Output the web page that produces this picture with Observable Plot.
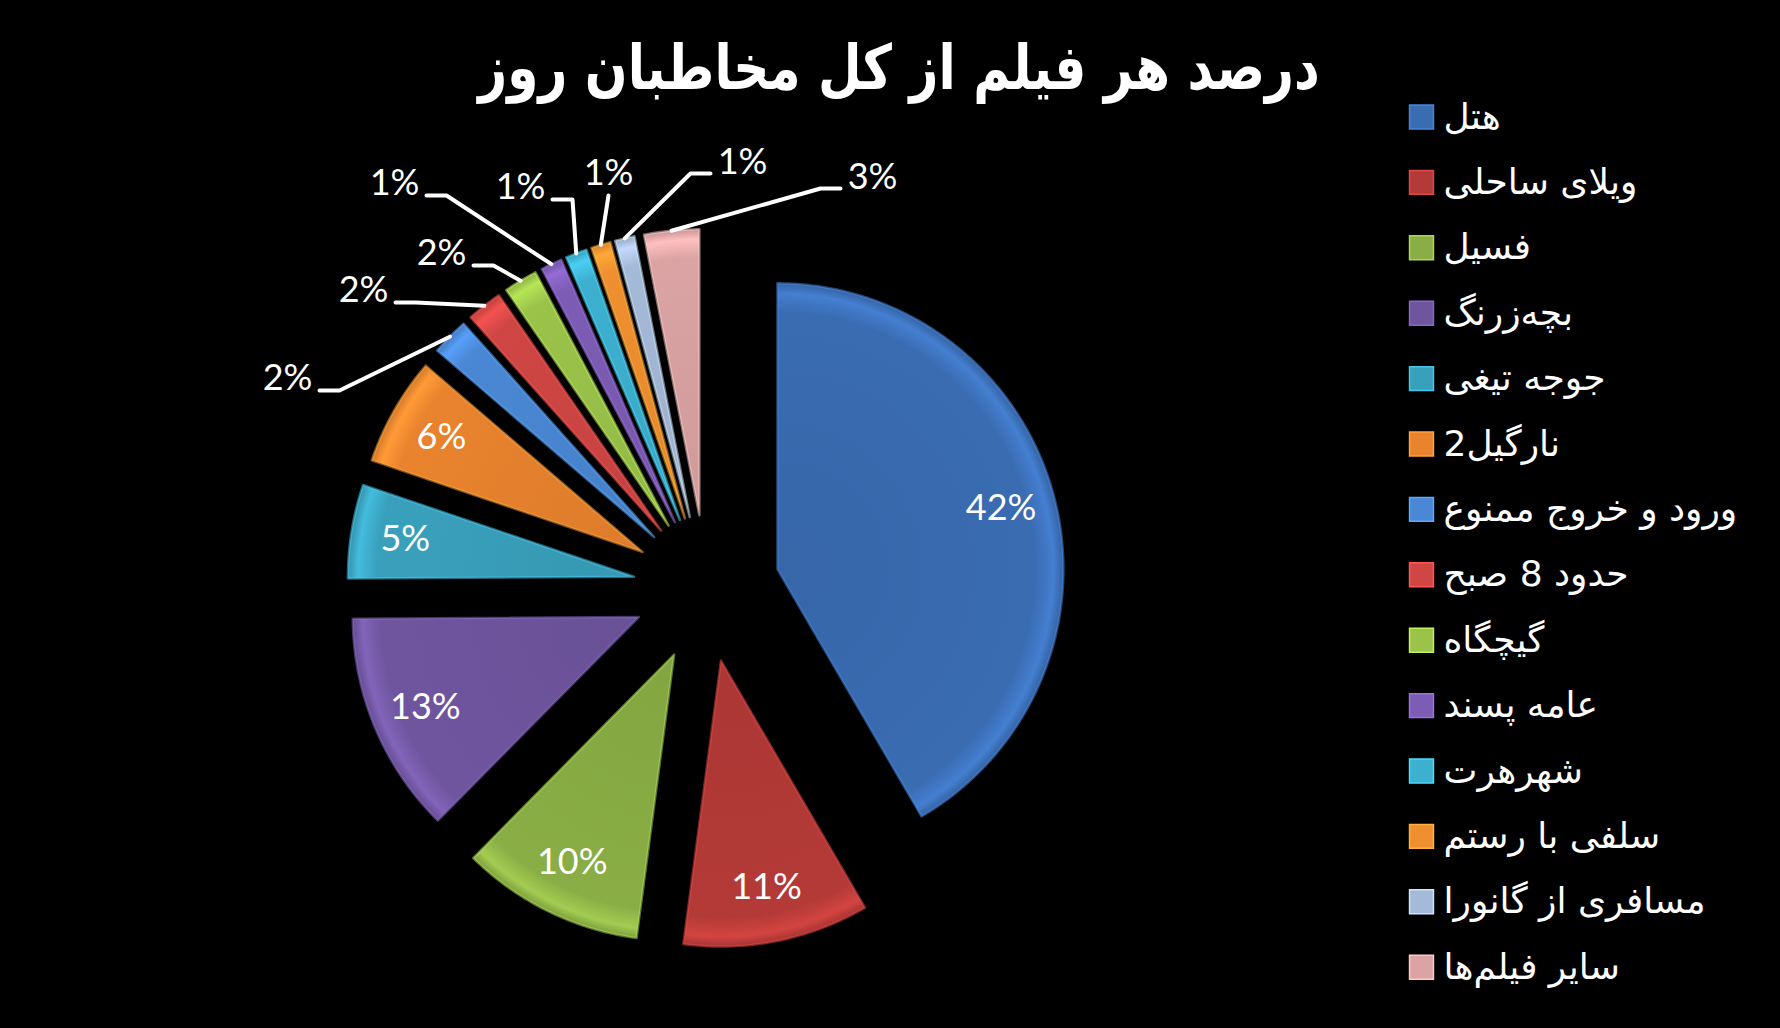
<!DOCTYPE html>
<html><head><meta charset="utf-8">
<script src="https://cdn.jsdelivr.net/npm/d3@7"></script>
<script src="https://cdn.jsdelivr.net/npm/@observablehq/plot@0.6"></script>
<style>
html,body{margin:0;padding:0;background:#000;}
#wrap{position:relative;width:1780px;height:1028px;overflow:hidden;background:#000;}
#title{position:absolute;left:899px;top:31px;transform:translateX(-50%) scaleX(0.81);white-space:nowrap;color:#fff;font-family:"DejaVu Sans";font-weight:bold;font-size:62px;line-height:normal;direction:rtl;}
#chart{position:absolute;left:0;top:0;}
</style></head><body>
<div id="wrap"><div id="title">درصد هر فیلم از کل مخاطبان روز</div><div id="chart"></div></div>
<script>
// ---- DATA (labels show rounded percentages) ----
const films = ["هتل","ویلای ساحلی","فسیل","بچه‌زرنگ","جوجه تیغی","نارگیل2","ورود و خروج ممنوع","حدود 8 صبح","گیچگاه","عامه پسند","شهرهرت","سلفی با رستم","مسافری از گانورا","سایر فیلم‌ها"];
const shares = [41.6, 10.5, 10.3, 12.5, 5.3, 6.1, 2.1, 2.0, 1.9, 1.2, 1.2, 1.1, 1.1, 3.1];
const colors = ["#3A6CB2","#B43A37","#8AAE45","#6F559E","#39A0BC","#E9832E","#4A87D4","#CF4644","#9BC34A","#7D5CB5","#3DB0D0","#EF8F30","#A5B9D8","#DBA3A3"];

// ---- LAYOUT ----
const CX = 706, CY = 588, R = 286, EXPLODE = 73.5;
const INSIDE_MIN = 4.5;          // slices >= this get the label inside
const INSIDE_POS = 0.81;         // fraction of radius for inside labels
// callout label placement for the small slices, relative to pie centre
const calloutOffset = [[-419,-210],[-343,-298],[-265,-335],[-312,-405],[-186,-401],[-98,-415],[36,-426],[166,-411]];
const calloutSide = ["left","left","left","left","left","below","right","right"];
const LEG_X = 1421, LEG_Y0 = 116.5, LEG_DY = 65.4, LEG_TEXT_DX = 22;

const dir = a => [Math.sin(a), -Math.cos(a)];
const arcs = d3.pie().sort(null).value(d => d)(shares);

const slices = arcs.map((a, i) => {
  const mid = (a.startAngle + a.endAngle) / 2;
  const [ux, uy] = dir(mid);
  const ox = CX + EXPLODE * ux, oy = CY + EXPLODE * uy;
  const n = Math.max(4, Math.ceil((a.endAngle - a.startAngle) / 0.01));
  const ring = [[ox, oy]];
  for (let k = 0; k <= n; k++) {
    const t = a.startAngle + (a.endAngle - a.startAngle) * k / n;
    const [dx, dy] = dir(t);
    ring.push([ox + R * dx, oy + R * dy]);
  }
  ring.push([ox, oy]);
  return {i, mid, ox, oy, ux, uy, ring, value: shares[i], color: colors[i], name: films[i], grad: `url(#slice-grad-${i})`};
});

const features = slices.map(s => ({type: "Feature", properties: s, geometry: {type: "Polygon", coordinates: [s.ring]}}));
const pct = v => Math.round(v) + "%";

const insideLabels = slices.filter(s => s.value >= INSIDE_MIN).map(s => ({
  x: s.ox + INSIDE_POS * R * s.ux, y: s.oy + INSIDE_POS * R * s.uy, label: pct(s.value)
}));

const small = slices.filter(s => s.value < INSIDE_MIN);
const callouts = small.map((s, j) => {
  const lx = CX + calloutOffset[j][0], ly = CY + calloutOffset[j][1];
  const tx = s.ox + R * s.ux, ty = s.oy + R * s.uy;
  const side = calloutSide[j];
  let pts;
  if (side === "left") pts = [[lx + 32, ly + 12], [lx + 52, ly + 12], [tx, ty]];
  else if (side === "right") pts = [[lx - 32, ly + 11], [lx - 52, ly + 11], [tx, ty]];
  else pts = [[lx, ly + 22], [tx, ty]];
  return {x: lx, y: ly, label: pct(s.value), line: {type: "Feature", properties: {}, geometry: {type: "LineString", coordinates: pts}}};
});

const legend = films.map((f, i) => ({name: f, color: colors[i], x: LEG_X, y: LEG_Y0 + i * LEG_DY}));

const chart = Plot.plot({
  width: 1780, height: 1028, margin: 0,
  projection: {type: "identity"},
  color: {type: "identity"},
  style: {background: "transparent", color: "#fff"},
  marks: [
    Plot.geo(features, {fill: d => d.properties.grad, stroke: d => d3.color(d.properties.color).brighter(0.7).formatHex(), strokeWidth: 2.5, strokeOpacity: 0.5, strokeLinejoin: "round"}),
    Plot.geo(callouts.map(c => c.line), {stroke: "#fff", strokeWidth: 4, fill: "none"}),
    Plot.text(insideLabels, {x: "x", y: "y", text: "label", fill: "#fff", fontSize: 36, fontFamily: "Lato", textAnchor: "middle", lineAnchor: "middle"}),
    Plot.text(callouts, {x: "x", y: "y", text: "label", fill: "#fff", fontSize: 36, fontFamily: "Lato", textAnchor: "middle", lineAnchor: "middle"}),
    Plot.dot(legend, {x: "x", y: "y", fill: "color", symbol: "square", r: 13.5, stroke: d => d3.color(d.color).brighter(0.6).formatHex(), strokeWidth: 1.5}),
    Plot.text(legend, {x: d => d.x + LEG_TEXT_DX, y: "y", text: "name", fill: "#fff", fontSize: 36, fontFamily: "DejaVu Sans", textAnchor: "start", lineAnchor: "middle"})
  ]
});

// radial gradients giving each slice a soft bevelled rim, like the original
const svg = d3.select(chart.tagName.toLowerCase() === "svg" ? chart : chart.querySelector("svg"));
const defs = svg.insert("defs", ":first-child");
slices.forEach(s => {
  const c = d3.color(s.color);
  const g = defs.append("radialGradient").attr("id", `slice-grad-${s.i}`)
    .attr("gradientUnits", "userSpaceOnUse").attr("cx", s.ox).attr("cy", s.oy).attr("r", R);
  g.append("stop").attr("offset", "0").attr("stop-color", c.darker(0.15).formatHex());
  g.append("stop").attr("offset", "0.9").attr("stop-color", c.formatHex());
  g.append("stop").attr("offset", "0.965").attr("stop-color", c.brighter(0.45).formatHex());
  g.append("stop").attr("offset", "1").attr("stop-color", c.darker(0.25).formatHex());
});
document.getElementById("chart").append(chart);
</script>
</body></html>
